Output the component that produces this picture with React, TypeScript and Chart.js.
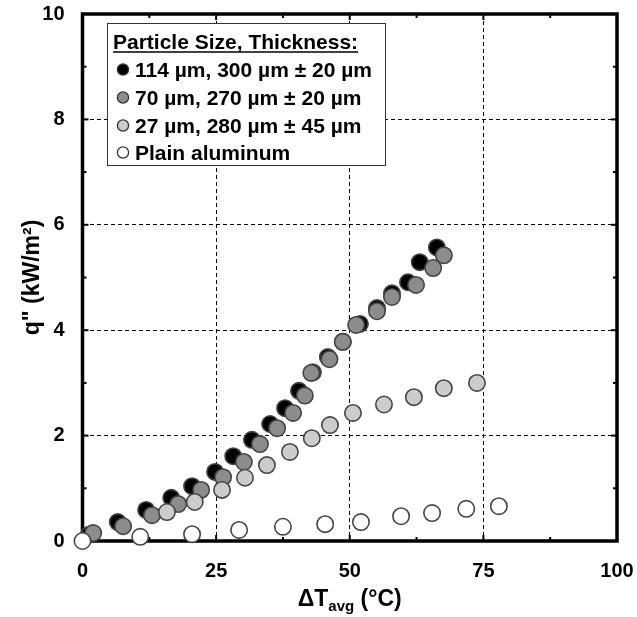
import React, { useEffect, useRef } from 'react';
import { Chart, registerables } from 'chart.js';

Chart.register(...registerables);

const legendTitle = 'Particle Size, Thickness:';
const seriesLabels = [
  '114 µm, 300 µm ± 20 µm',
  '70 µm, 270 µm ± 20 µm',
  '27 µm, 280 µm ± 45 µm',
  'Plain aluminum',
];
const seriesFills = ['#000000', '#8c8c8c', '#cccccc', '#ffffff'];

const s114X = [1.2, 6.6, 11.9, 16.6, 20.5, 24.8, 28.2, 31.7, 35.1, 37.9, 40.5, 43.1, 45.9, 48.7, 51.9, 55.1, 57.9, 60.9, 63.1, 66.3];
const s114Y = [0.12, 0.36, 0.59, 0.82, 1.04, 1.31, 1.61, 1.92, 2.22, 2.52, 2.85, 3.2, 3.49, 3.78, 4.12, 4.42, 4.7, 4.91, 5.29, 5.57];

const s70X = [2.0, 7.6, 13.0, 17.9, 22.2, 26.3, 30.2, 33.2, 36.4, 39.4, 41.6, 42.8, 46.2, 48.7, 51.2, 55.1, 57.9, 62.4, 65.6, 67.6];
const s70Y = [0.15, 0.28, 0.49, 0.7, 0.97, 1.21, 1.5, 1.84, 2.14, 2.43, 2.76, 3.19, 3.45, 3.78, 4.1, 4.36, 4.63, 4.86, 5.18, 5.42];

const s27X = [15.8, 21.0, 26.1, 30.4, 34.5, 38.8, 42.9, 46.3, 50.6, 56.4, 62.0, 67.6, 73.8];
const s27Y = [0.55, 0.74, 0.97, 1.2, 1.44, 1.69, 1.95, 2.2, 2.43, 2.59, 2.73, 2.9, 3.0];

const plainX = [0, 10.8, 20.5, 29.3, 37.5, 45.4, 52.1, 59.6, 65.4, 71.8, 77.9];
const plainY = [0, 0.08, 0.13, 0.21, 0.27, 0.32, 0.36, 0.47, 0.53, 0.61, 0.66];

const xMajorTicks = [0, 25, 50, 75, 100];
const xMinorTicks = [12.5, 37.5, 62.5, 87.5];
const yMajorTicks = [0, 2, 4, 6, 8, 10];
const yMinorTicks = [1, 3, 5, 7, 9];

const FONT = "Arial, 'Liberation Sans', sans-serif";

const toPoints = (xs: number[], ys: number[]) => xs.map((x, i) => ({ x, y: ys[i] }));

const framePlugin = {
  id: 'frame',
  beforeDatasetsDraw(chart: any) {
    const { ctx, chartArea: a, scales } = chart;
    const x = scales.x;
    const y = scales.y;
    ctx.save();
    ctx.strokeStyle = '#000';
    ctx.lineWidth = 2;
    const tick = (x1: number, y1: number, x2: number, y2: number) => {
      ctx.beginPath();
      ctx.moveTo(x1, y1);
      ctx.lineTo(x2, y2);
      ctx.stroke();
    };
    xMajorTicks.forEach((v) => {
      const px = x.getPixelForValue(v);
      tick(px, a.bottom, px, a.bottom - 6);
      tick(px, a.top, px, a.top + 6);
    });
    xMinorTicks.forEach((v) => {
      const px = x.getPixelForValue(v);
      tick(px, a.bottom, px, a.bottom - 4);
      tick(px, a.top, px, a.top + 4);
    });
    yMajorTicks.forEach((v) => {
      const py = y.getPixelForValue(v);
      tick(a.left, py, a.left + 6, py);
      tick(a.right, py, a.right - 6, py);
    });
    yMinorTicks.forEach((v) => {
      const py = y.getPixelForValue(v);
      tick(a.left, py, a.left + 4, py);
      tick(a.right, py, a.right - 4, py);
    });
    ctx.lineWidth = 3.5;
    ctx.strokeRect(a.left, a.top, a.right - a.left, a.bottom - a.top);
    ctx.restore();
  },
  afterDatasetsDraw(chart: any) {
    const { ctx } = chart;
    ctx.save();
    const bx = 107.5, by = 23.5, bw = 278, bh = 142;
    ctx.fillStyle = '#fff';
    ctx.fillRect(bx, by, bw, bh);
    ctx.strokeStyle = '#333';
    ctx.lineWidth = 1;
    ctx.strokeRect(bx, by, bw, bh);
    ctx.fillStyle = '#000';
    ctx.font = `bold 21px ${FONT}`;
    ctx.textBaseline = 'alphabetic';
    ctx.textAlign = 'left';
    ctx.fillText(legendTitle, 113, 49);
    const tw = ctx.measureText(legendTitle).width;
    ctx.lineWidth = 1.6;
    ctx.strokeStyle = '#000';
    ctx.beginPath();
    ctx.moveTo(113, 52);
    ctx.lineTo(113 + tw, 52);
    ctx.stroke();
    const baselines = [77, 105, 133, 160];
    chart.data.datasets.forEach((ds: any, i: number) => {
      const cy = baselines[i] - 7.5;
      ctx.beginPath();
      ctx.arc(123, cy, 5.6, 0, Math.PI * 2);
      ctx.fillStyle = ds.backgroundColor;
      ctx.fill();
      ctx.lineWidth = 1.3;
      ctx.strokeStyle = '#333';
      ctx.stroke();
      ctx.fillStyle = '#000';
      ctx.fillText(ds.label, 135, baselines[i]);
    });
    ctx.restore();
  },
  afterDraw(chart: any) {
    const { ctx, chartArea: a } = chart;
    ctx.save();
    ctx.fillStyle = '#000';
    ctx.textBaseline = 'alphabetic';
    const big = `bold 23px ${FONT}`;
    const small = `bold 15px ${FONT}`;
    const p1 = 'ΔT';
    const p2 = 'avg';
    const p3 = ' (°C)';
    ctx.font = big;
    const w1 = ctx.measureText(p1).width;
    const w3 = ctx.measureText(p3).width;
    ctx.font = small;
    const w2 = ctx.measureText(p2).width;
    const total = w1 + w2 + w3;
    const cx = (a.left + a.right) / 2;
    let sx = cx - total / 2;
    const base = 606;
    ctx.font = big;
    ctx.fillText(p1, sx, base);
    sx += w1;
    ctx.font = small;
    ctx.fillText(p2, sx, base + 5);
    sx += w2;
    ctx.font = big;
    ctx.fillText(p3, sx, base);
    ctx.translate(33, (a.top + a.bottom) / 2);
    ctx.rotate(-Math.PI / 2);
    ctx.textAlign = 'center';
    ctx.textBaseline = 'middle';
    ctx.font = `bold 23px ${FONT}`;
    ctx.fillText('q" (kW/m²)', 0, 0);
    ctx.restore();
  },
};

export default function App() {
  const ref = useRef<HTMLCanvasElement | null>(null);
  useEffect(() => {
    if (!ref.current) return;
    const seriesX = [s114X, s70X, s27X, plainX];
    const seriesY = [s114Y, s70Y, s27Y, plainY];
    const orders = [4, 3, 2, 1];
    const chart = new Chart(ref.current, {
      type: 'scatter',
      data: {
        datasets: seriesLabels.map((label, i) => ({
          label,
          data: toPoints(seriesX[i], seriesY[i]),
          backgroundColor: seriesFills[i],
          borderColor: '#454545',
          borderWidth: 1.6,
          pointRadius: 8.2,
          pointHoverRadius: 8.2,
          order: orders[i],
          clip: false as any,
        })),
      },
      options: {
        responsive: false,
        animation: false,
        events: [],
        layout: { padding: { left: 0.5, right: 20, top: 14, bottom: 0 } },
        plugins: {
          legend: { display: false },
          tooltip: { enabled: false },
          title: { display: false },
        },
        scales: {
          x: {
            type: 'linear',
            min: 0,
            max: 100,
            afterFit: (s: any) => {
              s.height = 76;
              s.paddingLeft = 0;
              s.paddingRight = 0;
              s.paddingTop = 0;
              s.paddingBottom = 0;
            },
            afterBuildTicks: (s: any) => { s.ticks = xMajorTicks.map((v) => ({ value: v })); },
            ticks: {
              color: '#000',
              font: { family: FONT, size: 20, weight: 'bold' },
              padding: 18,
              maxRotation: 0,
              callback: (v: any) => String(v),
            },
            grid: {
              drawTicks: false,
              lineWidth: 1,
              color: (c: any) => (c.tick && c.tick.value > 0 && c.tick.value < 100 ? '#000' : 'rgba(0,0,0,0)'),
            },
            border: { display: false, dash: [4, 3] },
          },
          y: {
            type: 'linear',
            min: 0,
            max: 10,
            afterFit: (s: any) => {
              s.width = 82;
              s.paddingLeft = 0;
              s.paddingRight = 0;
              s.paddingTop = 0;
              s.paddingBottom = 0;
            },
            afterBuildTicks: (s: any) => { s.ticks = yMajorTicks.map((v) => ({ value: v })); },
            ticks: {
              color: '#000',
              font: { family: FONT, size: 20, weight: 'bold' },
              padding: 18,
              callback: (v: any) => String(v),
            },
            grid: {
              drawTicks: false,
              lineWidth: 1,
              color: (c: any) => (c.tick && c.tick.value > 0 && c.tick.value < 10 ? '#000' : 'rgba(0,0,0,0)'),
            },
            border: { display: false, dash: [4, 3] },
          },
        },
      },
      plugins: [framePlugin],
    });
    return () => chart.destroy();
  }, []);
  return (
    <div style={{ position: 'absolute', left: 0, top: 0, width: 637, height: 617, background: '#fff' }}>
      <canvas ref={ref} width={637} height={617} />
    </div>
  );
}
